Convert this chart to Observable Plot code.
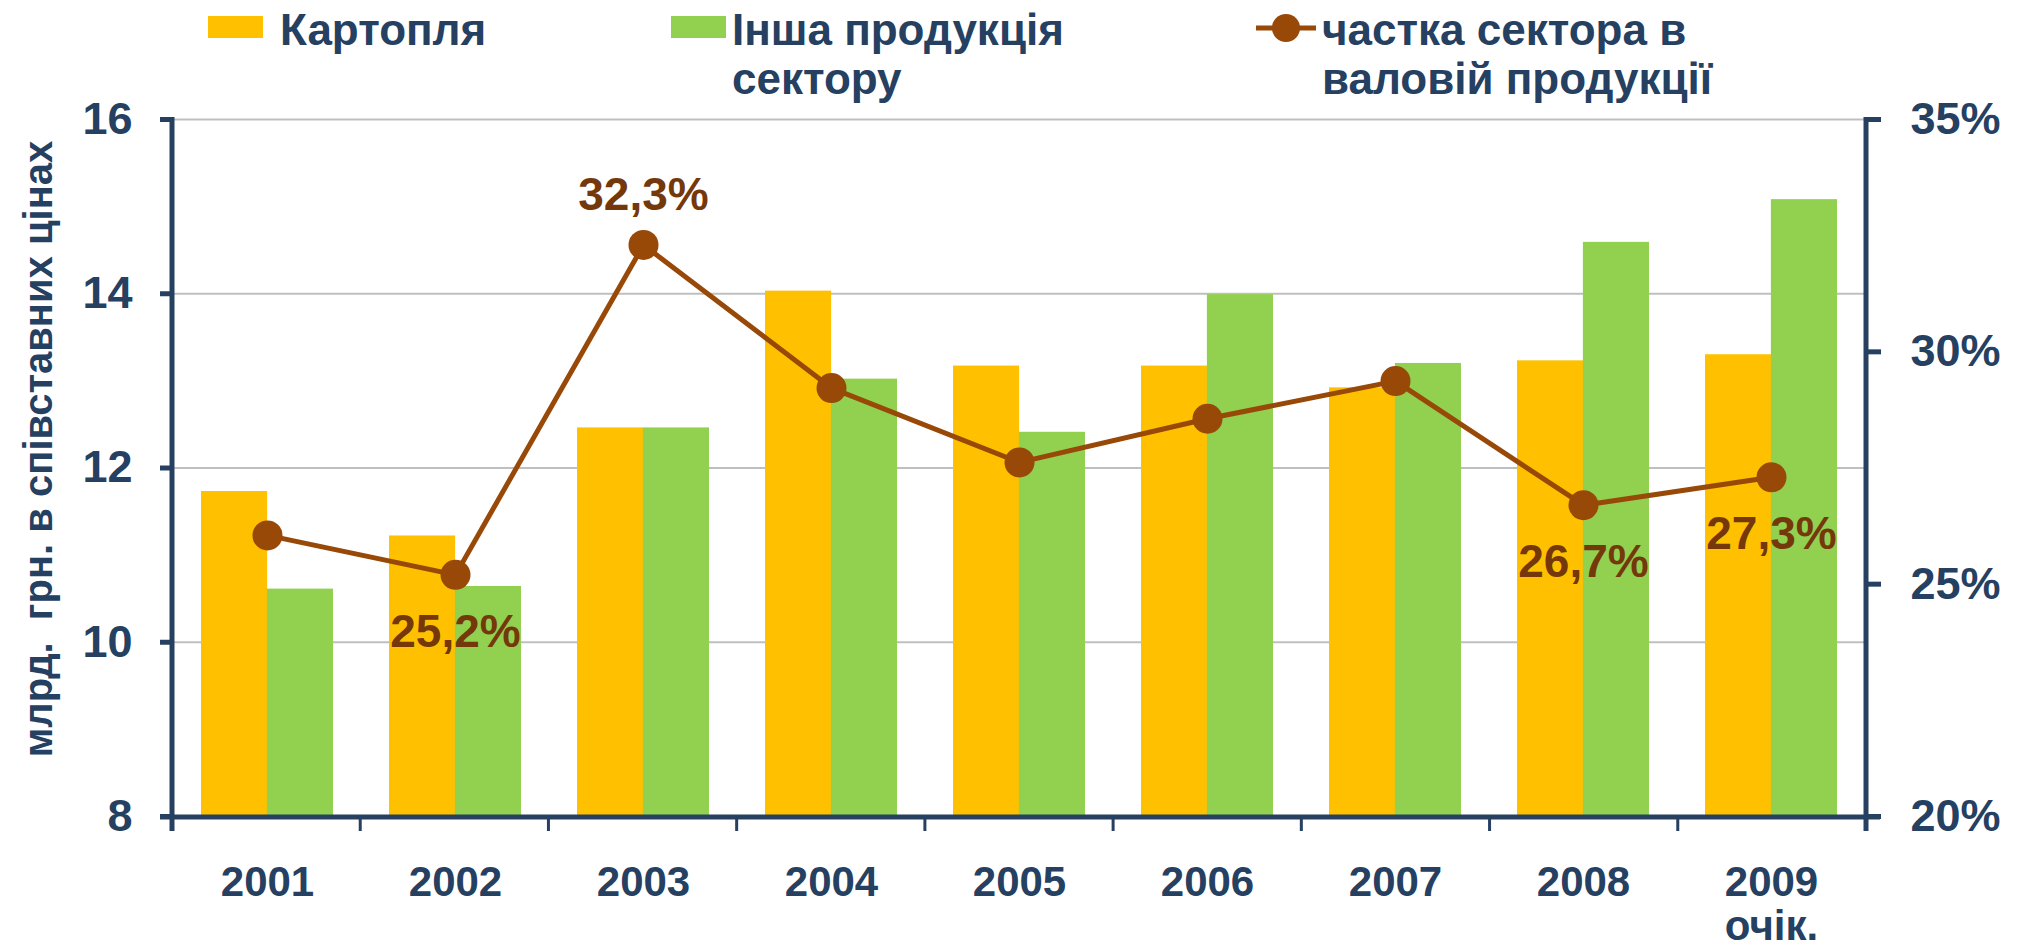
<!DOCTYPE html>
<html>
<head>
<meta charset="utf-8">
<script src="https://cdn.jsdelivr.net/npm/d3@7"></script>
<script src="https://cdn.jsdelivr.net/npm/@observablehq/plot@0.6"></script>
<style>
  body { margin: 0; background: #fff; }
  #wrap { position: relative; width: 2022px; height: 943px; overflow: hidden;
          font-family: "Liberation Sans", Arial, sans-serif; font-weight: bold; color: #254061; }
  #legend { position: absolute; left: 0; top: 0; width: 2022px; height: 110px; z-index: 2; }
  .leg { position: absolute; top: 5px; font-size: 44px; line-height: 49px; white-space: pre; }
  .sw { position: absolute; top: 16px; width: 55px; height: 22px; }
  #chart svg { display: block; }
</style>
</head>
<body>
<div id="wrap">
  <div id="legend"></div>
  <div id="chart"></div>
</div>
<script>
// ---- data ----
const years = ["2001", "2002", "2003", "2004", "2005", "2006", "2007", "2008", "2009"];
const xLabels = ["2001", "2002", "2003", "2004", "2005", "2006", "2007", "2008", "2009\nочік."];
const potato = [11.73, 11.22, 12.46, 14.03, 13.17, 13.17, 12.92, 13.23, 13.30];
const other  = [10.61, 10.64, 12.46, 13.02, 12.41, 13.99, 13.20, 14.59, 15.08];
const share  = [26.05, 25.2, 32.3, 29.22, 27.62, 28.56, 29.37, 26.7, 27.3];
const leftTicks = [8, 10, 12, 14, 16];
const rightTicks = [20, 25, 30, 35];
const seriesNames = ["Картопля", "Інша продукція\nсектору", "частка сектора в\nваловій продукції"];
const yTitle = "млрд.\u00a0\u00a0грн. в співставних цінах";
const labeledYears = ["2002", "2003", "2008", "2009"];
const labelAboveYears = ["2003"];

// ---- styles ----
const colors = ["#FFC000", "#92D050", "#984807"];
const navy = "#254061";
const labelColor = "#74380a";
const gridColor = "#bfbfbf";
const font = '"Liberation Sans", Arial, sans-serif';

const W = 2022, H = 943, ML = 172, MR = 156, MT = 119, MB = 127;
const pInner = 0.3;
const step = (W - ML - MR) / years.length;
const half = step * (1 - pInner) / 2;

const rows = years.map((y, i) => ({year: y, cat: xLabels[i], potato: potato[i], other: other[i], share: share[i]}));

const yMin = leftTicks[0], yMax = leftTicks[leftTicks.length - 1];
const pMin = rightTicks[0], pMax = rightTicks[rightTicks.length - 1];
const toY = p => yMin + (p - pMin) * (yMax - yMin) / (pMax - pMin);
const fromY = v => pMin + (v - yMin) * (pMax - pMin) / (yMax - yMin);
const fmtPct = p => p.toFixed(1).replace(".", ",") + "%";

// custom mark: axis lines and category-boundary ticks
function axisLines(index, scales, values, dims) {
  const {width, height, marginLeft, marginRight, marginTop, marginBottom} = dims;
  const x0 = marginLeft, x1 = width - marginRight, y0 = marginTop, y1 = height - marginBottom;
  const n = years.length, st = (x1 - x0) / n;
  const g = d3.create("svg:g").attr("stroke", navy).attr("fill", "none");
  for (let i = 1; i < n; i++) {
    g.append("line").attr("x1", x0 + i * st).attr("x2", x0 + i * st)
      .attr("y1", y1).attr("y2", y1 + 15).attr("stroke-width", 3);
  }
  g.append("line").attr("x1", x0).attr("x2", x0).attr("y1", y0 - 2).attr("y2", y1 + 15).attr("stroke-width", 5);
  g.append("line").attr("x1", x1).attr("x2", x1).attr("y1", y0 - 2).attr("y2", y1 + 15).attr("stroke-width", 5);
  g.append("line").attr("x1", x0 - 12).attr("x2", x1 + 14).attr("y1", y1 + 1).attr("y2", y1 + 1).attr("stroke-width", 5);
  return g.node();
}

const chart = Plot.plot({
  width: W, height: H,
  marginLeft: ML, marginRight: MR, marginTop: MT, marginBottom: MB,
  style: {fontFamily: font, fontWeight: "bold", color: navy, background: "white", overflow: "visible"},
  x: {type: "band", domain: xLabels, paddingInner: pInner, paddingOuter: pInner / 2, axis: null},
  y: {domain: [yMin, yMax], axis: null},
  marks: [
    Plot.gridY(leftTicks.slice(1), {stroke: gridColor, strokeWidth: 2, strokeOpacity: 1}),
    Plot.barY(rows, {x: "cat", y1: yMin, y2: "potato", fill: colors[0], insetRight: half}),
    Plot.barY(rows, {x: "cat", y1: yMin, y2: "other", fill: colors[1], insetLeft: half}),
    axisLines,
    Plot.axisY({ticks: leftTicks, tickSize: 12, tickPadding: 28, fontSize: 45, strokeWidth: 5, label: null}),
    Plot.axisY({anchor: "right", ticks: rightTicks.map(toY), tickFormat: v => Math.round(fromY(v)) + "%",
                tickSize: 14, tickPadding: 30, fontSize: 45, strokeWidth: 5, label: null}),
    Plot.axisX({tickSize: 0, tickPadding: 48, fontSize: 42, label: null, lineHeight: 1.05}),
    Plot.text([yTitle], {frameAnchor: "left", text: d => d, rotate: -90, textAnchor: "middle", lineAnchor: "middle",
                         dx: -133, dy: -19, fontSize: 40, fill: navy}),
    Plot.line(rows, {x: "cat", y: d => toY(d.share), stroke: colors[2], strokeWidth: 5}),
    Plot.dot(rows, {x: "cat", y: d => toY(d.share), r: 15, fill: colors[2], stroke: "none"}),
    Plot.text(rows.filter(d => labeledYears.includes(d.year) && labelAboveYears.includes(d.year)),
      {x: "cat", y: d => toY(d.share), text: d => fmtPct(d.share), dy: -50, fontSize: 46, fill: labelColor}),
    Plot.text(rows.filter(d => labeledYears.includes(d.year) && !labelAboveYears.includes(d.year)),
      {x: "cat", y: d => toY(d.share), text: d => fmtPct(d.share), dy: 57, fontSize: 46, fill: labelColor})
  ]
});
document.getElementById("chart").appendChild(chart);

// ---- legend (HTML, above the chart) ----
const legend = d3.select("#legend");
const legPos = [{sw: 208, tx: 280}, {sw: 671, tx: 732}, {sw: 1256, tx: 1322}];
seriesNames.forEach((name, i) => {
  if (i < 2) {
    legend.append("div").attr("class", "sw").style("left", legPos[i].sw + "px").style("background", colors[i]);
  } else {
    const s = legend.append("svg").style("position", "absolute").style("left", legPos[i].sw + "px")
      .style("top", "12px").attr("width", 60).attr("height", 32);
    s.append("line").attr("x1", 0).attr("x2", 60).attr("y1", 16).attr("y2", 16)
      .attr("stroke", colors[i]).attr("stroke-width", 5);
    s.append("circle").attr("cx", 30).attr("cy", 16).attr("r", 14).attr("fill", colors[i]);
  }
  legend.append("div").attr("class", "leg").style("left", legPos[i].tx + "px").text(name);
});
</script>
</body>
</html>
